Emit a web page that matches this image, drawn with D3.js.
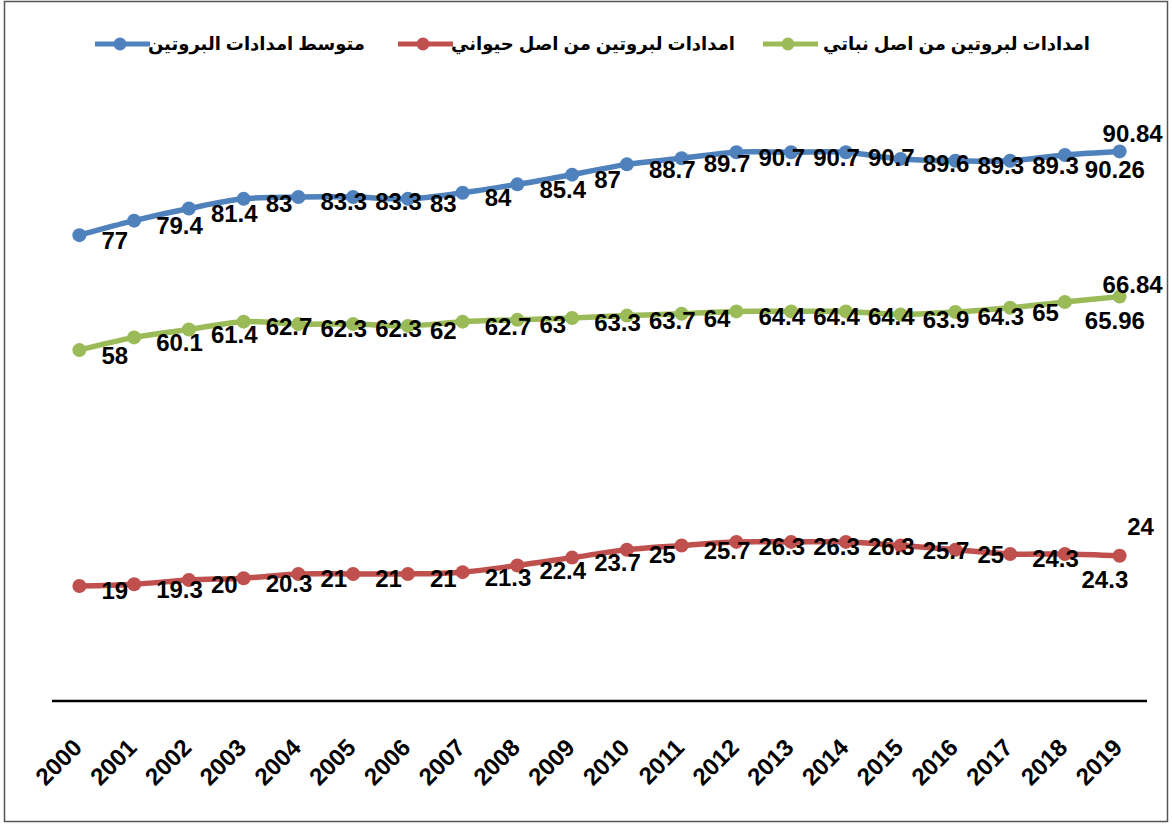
<!DOCTYPE html>
<html>
<head>
<meta charset="utf-8">
<script src="https://cdn.jsdelivr.net/npm/d3@7"></script>
<style>
  body { margin: 0; background: #fff; }
  svg { display: block; font-family: "Liberation Sans", Arial, "DejaVu Sans", sans-serif; }
</style>
</head>
<body>
<svg id="chart" width="1172" height="825"></svg>
<script>
// years on the x axis
var years = ["2000","2001","2002","2003","2004","2005","2006","2007","2008","2009",
  "2010","2011","2012","2013","2014","2015","2016","2017","2018","2019"];

// average protein supply
var avgSupply = [77, 79.4, 81.4, 83, 83.3, 83.3, 83, 84, 85.4, 87,
  88.7, 89.7, 90.7, 90.7, 90.7, 89.6, 89.3, 89.3, 90.26, 90.84];
// protein from animal origin
var animalSupply = [19, 19.3, 20, 20.3, 21, 21, 21, 21.3, 22.4, 23.7,
  25, 25.7, 26.3, 26.3, 26.3, 25.7, 25, 24.3, 24.3, 24];
// protein from plant origin
var plantSupply = [58, 60.1, 61.4, 62.7, 62.3, 62.3, 62, 62.7, 63, 63.3,
  63.7, 64, 64.4, 64.4, 64.4, 63.9, 64.3, 65, 65.96, 66.84];

var seriesNames = ["متوسط امدادات البروتين", "امدادات لبروتين من اصل حيواني", "امدادات لبروتين من اصل نباتي"];

var svg = d3.select("#chart"),
  width = +svg.attr("width"),
  height = +svg.attr("height");

var series = [
  { name: seriesNames[0], values: avgSupply, color: "#4F81BD" },
  { name: seriesNames[1], values: animalSupply, color: "#C0504D" },
  { name: seriesNames[2], values: plantSupply, color: "#9BBB59" }
];

// hand moved labels of the last two points (like in the excel original)
var labelNudge = [
  { 18: [50, 15], 19: [13, -18] },
  { 18: [40, 26], 19: [21, -29] },
  { 18: [50, 19], 19: [13, -12] }
];

// outer frame
svg.append("rect")
  .attr("x", 4.5).attr("y", 1.5)
  .attr("width", width - 9).attr("height", height - 5)
  .attr("fill", "none")
  .attr("stroke", "#555")
  .attr("stroke-width", 1.5);

var x = d3.scalePoint()
  .domain(years)
  .range([52, 1147])
  .padding(0.5);

var y = d3.scaleLinear()
  .domain([0, 100])
  .range([701, 96]);

// x axis line
svg.append("line")
  .attr("x1", 52).attr("x2", 1147)
  .attr("y1", y(0)).attr("y2", y(0))
  .attr("stroke", "#000")
  .attr("stroke-width", 2.5);

// year labels, rotated
svg.append("g").selectAll("text")
  .data(years)
  .enter()
  .append("text")
  .attr("transform", d => "translate(" + (x(d) + 4) + "," + 749 + ") rotate(-45)")
  .attr("text-anchor", "end")
  .style("font-size", "24px")
  .style("font-weight", "bold")
  .text(d => d);

var line = d3.line()
  .x((d, i) => x(years[i]))
  .y(d => y(d))
  .curve(d3.curveCatmullRom.alpha(0.5));

series.forEach(function (s, si) {
  var g = svg.append("g");

  g.append("path")
    .datum(s.values)
    .attr("fill", "none")
    .attr("stroke", s.color)
    .attr("stroke-width", 5.5)
    .attr("stroke-linejoin", "round")
    .attr("d", line);

  g.selectAll("circle")
    .data(s.values)
    .enter()
    .append("circle")
    .attr("cx", (d, i) => x(years[i]))
    .attr("cy", d => y(d))
    .attr("r", 7)
    .attr("fill", s.color);

  //data labels: right of point, except the moved ones
  g.selectAll("text")
    .data(s.values)
    .enter()
    .append("text")
    .attr("x", function (d, i) {
      var n = labelNudge[si][i];
      return n ? x(years[i]) + n[0] : x(years[i]) + 22;
    })
    .attr("y", function (d, i) {
      var n = labelNudge[si][i];
      return n ? y(d) + n[1] : y(d) + 5;
    })
    .attr("dy", "0.35em")
    .attr("text-anchor", (d, i) => labelNudge[si][i] ? "middle" : "start")
    .style("font-size", "24px")
    .style("font-weight", "bold")
    .attr("fill", "#000")
    .text(d => d);
});

// legend
var legendPos = [
  { line: 95, textEnd: 365 },
  { line: 398, textEnd: 735 },
  { line: 763, textEnd: 1090 }
];
var legend = svg.append("g");
series.forEach(function (s, i) {
  var p = legendPos[i];
  legend.append("line")
    .attr("x1", p.line).attr("x2", p.line + 55)
    .attr("y1", 44).attr("y2", 44)
    .attr("stroke", s.color)
    .attr("stroke-width", 5);
  legend.append("circle")
    .attr("cx", p.line + 25).attr("cy", 44)
    .attr("r", 6.5)
    .attr("fill", s.color);
  legend.append("text")
    .attr("x", p.textEnd)
    .attr("y", 44)
    .attr("dy", "0.35em")
    .attr("text-anchor", "end")
    .style("font-size", "18px")
    .style("font-weight", "bold")
    .text(s.name);
});
</script>
</body>
</html>
